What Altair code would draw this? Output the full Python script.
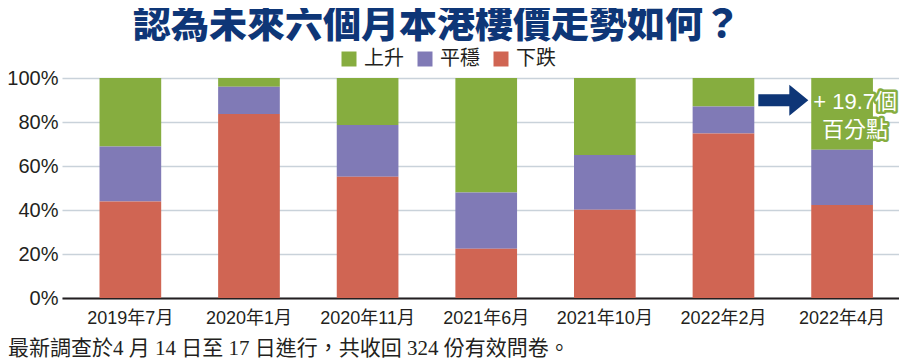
import altair as alt
import pandas as pd

periods = ["2019年7月", "2020年1月", "2020年11月", "2021年6月", "2021年10月", "2022年2月", "2022年4月"]
series = ["上升", "平穩", "下跌"]
rise = [31.1, 4.0, 21.4, 52.0, 35.0, 12.9, 32.6]
stable = [25.0, 12.4, 23.5, 25.6, 24.9, 12.3, 25.1]
fall = [43.9, 83.6, 55.1, 22.4, 40.1, 74.8, 42.3]
y_ticks = [0, 20, 40, 60, 80, 100]

title_text = "認為未來六個月本港樓價走勢如何？"
note_text = "最新調查於4 月 14 日至 17 日進行，共收回 324 份有效問卷。"
annot_lines = ["+ 19.7個", "百分點"]
annot_values = [88.9, 76.2]
arrow_value = 89.9

GREEN, PURPLE, RED = "#86ad3f", "#807ab6", "#d06553"
NAVY = "#0e3677"
INK = "#231f20"
CJK = "Noto Sans CJK TC"
SANS = "Liberation Sans, Noto Sans CJK TC"

rows = []
for i, p in enumerate(periods):
    for s, vals, o in ((series[0], rise, 2), (series[1], stable, 1), (series[2], fall, 0)):
        rows.append({"period": p, "series": s, "value": vals[i], "ord": o})
df = pd.DataFrame(rows)

xscale = alt.Scale(domain=periods, paddingInner=0.48, paddingOuter=0.268, align=0.59)
yscale = alt.Scale(domain=[0, 100], nice=False)

bars = alt.Chart(df).mark_bar().encode(
    x=alt.X("period:N", sort=periods, scale=xscale,
            axis=alt.Axis(title=None, labelAngle=0, labelFont="Liberation Sans Narrow, Liberation Sans, Noto Sans CJK TC",
                          labelFontSize=18, labelColor=INK, labelPadding=11, ticks=False,
                          domainColor=INK, domainWidth=2, grid=False)),
    y=alt.Y("value:Q", stack="zero", scale=yscale,
            axis=alt.Axis(title=None, values=y_ticks, labelExpr="datum.value + '%'",
                          labelFont="Liberation Sans", labelFontSize=20, labelColor=INK,
                          labelPadding=4, ticks=False, domain=False,
                          gridColor="#c9d2da", gridWidth=1.5)),
    color=alt.Color("series:N", scale=alt.Scale(domain=series, range=[GREEN, PURPLE, RED]),
                    legend=alt.Legend(title=None, orient="none", legendX=277, legendY=-29,
                                      direction="horizontal", symbolType="square", symbolSize=225,
                                      symbolStrokeWidth=0, symbolOpacity=1, labelFont=CJK,
                                      labelFontSize=20, labelColor=INK, labelOffset=5,
                                      columnPadding=11)),
    order=alt.Order("ord:Q"),
)

arrow_df = pd.DataFrame({"period": [periods[5]], "value": [arrow_value]})
arrow = alt.Chart(arrow_df).mark_point(
    shape="M-1,-0.24L0.24,-0.24L0.24,-0.62L1,0L0.24,0.62L0.24,0.24L-1,0.24Z",
    size=2500, filled=True, color=NAVY, opacity=1, strokeWidth=0, xOffset=29,
).encode(
    x=alt.X("period:N", sort=periods, scale=xscale, bandPosition=1),
    y=alt.Y("value:Q", scale=yscale),
)

annot_df = pd.DataFrame({"period": [periods[6]] * 2, "value": annot_values, "t": annot_lines})
annot_outline = alt.Chart(annot_df).mark_text(
    font=SANS, fontSize=22, color=GREEN, stroke=GREEN, strokeWidth=5, strokeJoin="round",
    align="center", baseline="middle", dx=13,
).encode(x=alt.X("period:N", sort=periods, scale=xscale), y=alt.Y("value:Q", scale=yscale), text="t:N")
annot_text = alt.Chart(annot_df).mark_text(
    font=SANS, fontSize=22, color="white", align="center", baseline="middle", dx=13,
).encode(x=alt.X("period:N", sort=periods, scale=xscale), y=alt.Y("value:Q", scale=yscale), text="t:N")

title = alt.Chart(pd.DataFrame({"t": [title_text]})).mark_text(
    font=CJK, fontSize=38, fontWeight=900, color=NAVY, align="center", baseline="middle",
).encode(x=alt.value(375), y=alt.value(-52), text="t:N")

note = alt.Chart(pd.DataFrame({"t": [note_text]})).mark_text(
    font="Liberation Serif, Noto Sans CJK TC", fontSize=21, color=INK, align="left", baseline="middle",
).encode(x=alt.value(-54), y=alt.value(271), text="t:N")

chart = alt.layer(bars, arrow, annot_outline, annot_text, title, note).properties(
    width=837, height=220,
    padding={"left": 54, "top": 70, "right": 0, "bottom": 61},
    autosize=alt.AutoSizeParams(type="none"),
    background="white",
).configure_view(stroke=None)

chart.save("out.html", embed_options={"renderer": "svg", "actions": False})
